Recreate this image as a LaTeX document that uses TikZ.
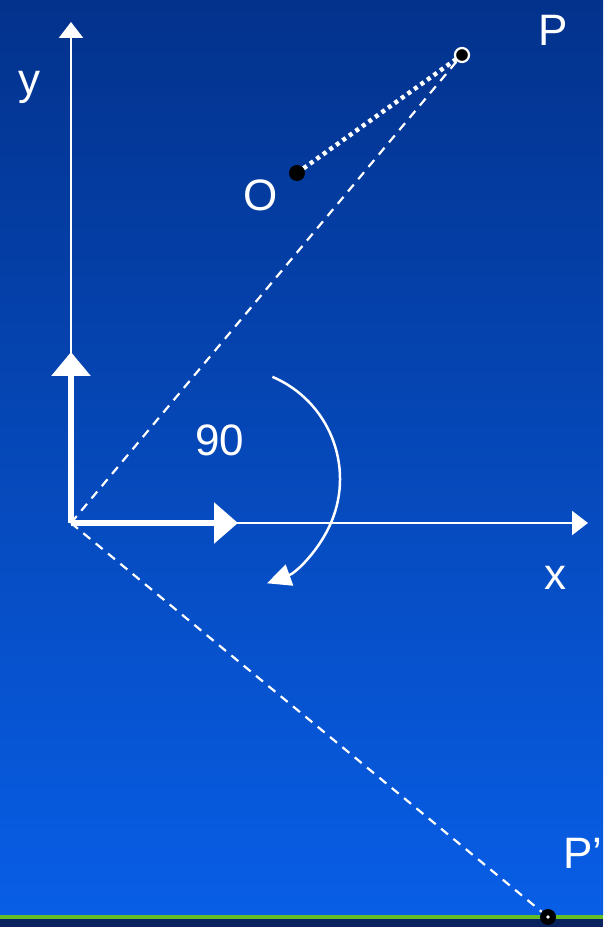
\documentclass[tikz,border=0pt]{standalone}
\usepackage{fontspec}
\setmainfont{Liberation Sans}
\usetikzlibrary{arrows.meta}
\definecolor{bgtop}{RGB}{3,50,140}
\definecolor{bgbot}{RGB}{8,94,230}
\definecolor{barline}{RGB}{100,190,40}
\definecolor{barnavy}{RGB}{10,35,95}

\begin{document}
\begin{tikzpicture}[x=1pt,y=1pt,every node/.style={font=\fontsize{44}{48}\selectfont,text=white}]
\shade[top color=bgtop,bottom color=bgbot] (0,12) rectangle (603,927);
\fill[barnavy] (0,0) rectangle (603,8);
\fill[barline] (0,8) rectangle (603,12);
\coordinate (origin) at (71,404);
\coordinate (ytop) at (71,905);
\coordinate (xend) at (588,404);
\coordinate (ybase) at (71,575);
\coordinate (xbase) at (238,404);
\coordinate (P) at (462,872);
\coordinate (O) at (297,754);
\coordinate (Pp) at (548,10);
% axes
\draw[white,line width=2.2pt,-{Triangle[length=16pt,width=24pt]}] (origin) -- (ytop);
\draw[white,line width=2.2pt,-{Triangle[length=16pt,width=24pt]}] (origin) -- (xend);
\draw[white,line width=6pt,-{Triangle[length=24pt,width=38pt]}] (origin) -- (ybase);
\draw[white,line width=6pt,-{Triangle[length=24pt,width=40pt]}] (origin) -- (xbase);
% rays
\draw[white,line width=2.2pt,dash pattern=on 9pt off 7pt] (origin) -- (P);
\draw[white,line width=2.2pt,dash pattern=on 9pt off 7pt] (origin) -- (Pp);
\draw[white,line width=4.5pt,dash pattern=on 4pt off 4pt] (O) -- (P);
% points
\fill[black] (O) circle (8pt);
\draw[white,line width=2.2pt,fill=black] (P) circle (7pt);
\fill[black] (Pp) circle (8pt);
\fill[white] (Pp) circle (1.8pt);
% rotation
\draw[white,line width=2.5pt,-{Triangle[length=24pt,width=22pt]}] (229,448) ++(67:111) arc (67:-70:111);
\node (ylab) at (30,840) {y};
\node (xlab) at (555,349) {x};
\node (Plab) at (553,897) {P};
\node (Olab) at (261,732) {O};
\node (Pplab) at (583,74) {P’};
\node (anglab) at (220,487) {90};
\end{tikzpicture}
\end{document}
